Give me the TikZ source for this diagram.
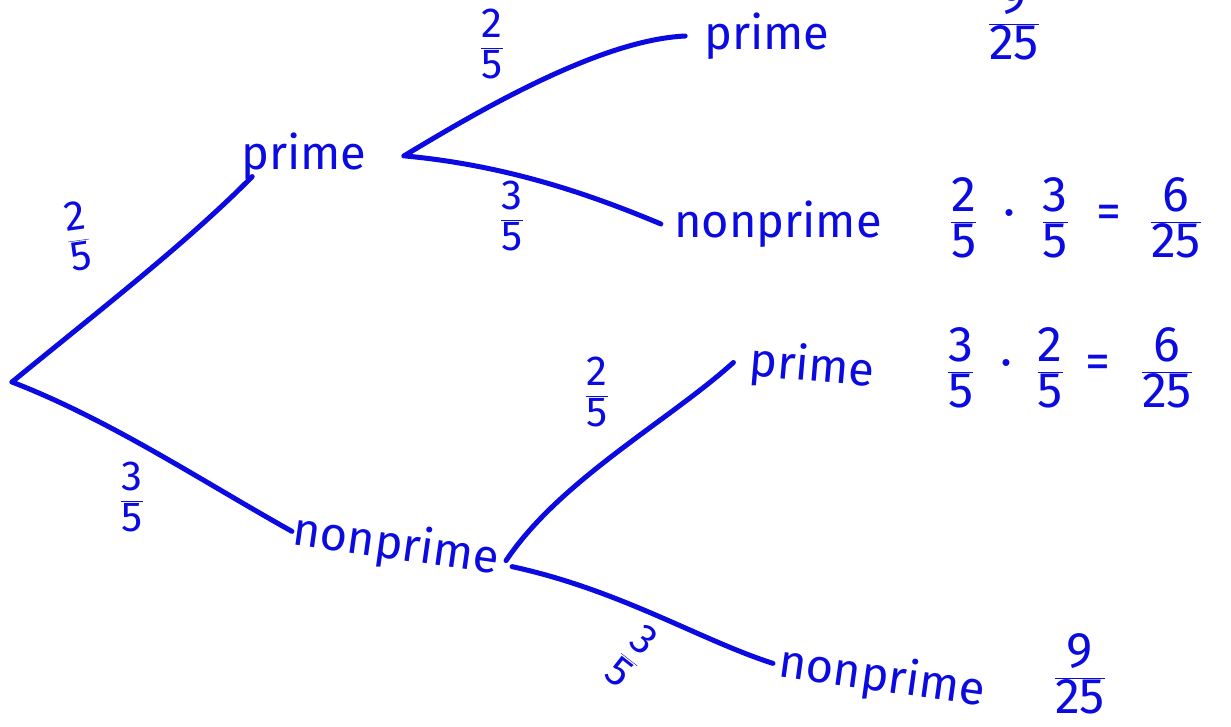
\documentclass[tikz,border=0pt]{standalone}
\usepackage{fontspec}
\setmainfont{Fira Sans}
\newcommand{\fr}[2]{\ensuremath{\displaystyle\frac{\mbox{#1}}{\mbox{#2}}}}
\definecolor{ink}{RGB}{10,10,225}
\begin{document}
\begin{tikzpicture}[x=1pt,y=-1pt,
  every node/.style={text=ink,inner sep=1pt},
  word/.style={font=\fontsize{47}{52}\selectfont},
  frac/.style={font=\fontsize{42}{46}\selectfont},
  bigfrac/.style={font=\fontsize{50}{54}\selectfont},
  branch/.style={draw=ink,line width=5pt,line cap=round,line join=round}]
\clip (0,0) rectangle (1231,727);
\useasboundingbox (0,0) rectangle (1231,727);
% nodes
\coordinate (root) at (12,382);
\node[word] (p1) at (304,156) {prime};
\node[word] (n1) at (396,546) [rotate=-8] {nonprime};
\node[word] (p2) at (767,36) {prime};
\node[word] (n2) at (778,224) {nonprime};
\node[word] (p3) at (812,368) [rotate=-5] {prime};
\node[word] (n3) at (882,678) [rotate=-8] {nonprime};
% connectors
\draw[branch] (root) .. controls (100,310) and (190,240) .. ([xshift=12pt,yshift=4pt]p1.south west);
\draw[branch] (root) .. controls (110,420) and (200,480) .. (n1.west);
\draw[branch] ([xshift=36pt]p1.east) .. controls (480,110) and (600,40) .. ([xshift=-18pt]p2.west);
\draw[branch] ([xshift=38pt]p1.east) .. controls (500,165) and (580,190) .. ([xshift=-12pt]n2.west);
\draw[branch] ([xshift=6pt]n1.east) .. controls (560,480) and (670,420) .. ([xshift=-15pt]p3.west);
\draw[branch] ([xshift=12pt,yshift=-6pt]n1.east) .. controls (620,590) and (700,640) .. ([xshift=-5pt]n3.west);
% branch probabilities
\node[frac,rotate=8] (l1) at (78,236) {\fr{2}{5}};
\node[frac] (l2) at (132,497) {\fr{3}{5}};
\node[frac] (l3) at (492,44) {\fr{2}{5}};
\node[frac] (l4) at (512,216) {\fr{3}{5}};
\node[frac] (l5) at (597,392) {\fr{2}{5}};
\node[frac,rotate=-38] (l6) at (632,656) {\fr{3}{5}};
% outcome probabilities
\node[bigfrac] (r1) at (1014,20) {\fr{9}{25}};
\node[bigfrac] (r2) at (1076,218) {\fr{2}{5}\hspace{26pt}·\hspace{26pt}\fr{3}{5}\hspace{28pt}=\hspace{28pt}\fr{6}{25}};
\node[bigfrac] (r3) at (1070,368) {\fr{3}{5}\hspace{26pt}·\hspace{24pt}\fr{2}{5}\hspace{22pt}=\hspace{30pt}\fr{6}{25}};
\node[bigfrac] (r4) at (1080,674) {\fr{9}{25}};
\end{tikzpicture}
\end{document}
